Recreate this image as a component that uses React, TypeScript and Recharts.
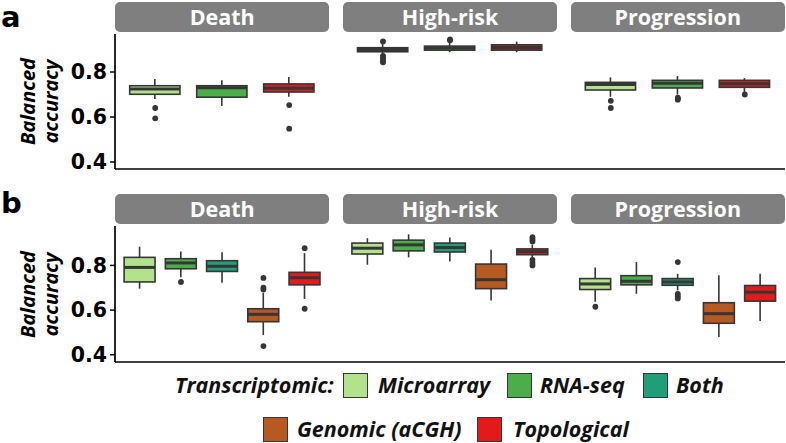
import React from 'react';
import { ComposedChart, Bar, Scatter, XAxis, YAxis } from 'recharts';

// ---------- data ----------
const facets = ['Death', 'High-risk', 'Progression'];
const methodsA = ['Microarray', 'RNA-seq', 'Topological'];
const methodsB = ['Microarray', 'RNA-seq', 'Both', 'Genomic (aCGH)', 'Topological'];
const legendRow1 = ['Microarray', 'RNA-seq', 'Both'];
const legendRow2 = ['Genomic (aCGH)', 'Topological'];
const legendTitle = 'Transcriptomic:';
const yTicks = [0.4, 0.6, 0.8];
const yTitle = ['Balanced', 'accuracy'];
const panelLabels = ['a', 'b'];

const methodColors: Record<string, string> = {
  Microarray: '#b2e28c',
  'RNA-seq': '#4cae4a',
  Both: '#1f9e79',
  'Genomic (aCGH)': '#b75a22',
  Topological: '#e31a1c',
};

// box stats: [lower whisker, q1, median, q3, upper whisker], one per method
const aDeathBoxes = [
  [0.68, 0.701, 0.724, 0.739, 0.769],
  [0.649, 0.688, 0.73, 0.739, 0.763],
  [0.69, 0.711, 0.728, 0.747, 0.778],
];
const aDeathOutliers = [[0.64, 0.594], [], [0.653, 0.548]];
const aHighRiskBoxes = [
  [0.88, 0.89, 0.9, 0.908, 0.928],
  [0.888, 0.897, 0.907, 0.915, 0.93],
  [0.888, 0.897, 0.909, 0.921, 0.935],
];
const aHighRiskOutliers = [[0.936, 0.872, 0.864, 0.856, 0.848, 0.843], [0.945, 0.941], []];
const aProgressionBoxes = [
  [0.69, 0.72, 0.745, 0.754, 0.776],
  [0.7, 0.729, 0.75, 0.763, 0.782],
  [0.71, 0.732, 0.748, 0.763, 0.773],
];
const aProgressionOutliers = [[0.672, 0.64], [0.686, 0.681, 0.677], [0.7]];

const bDeathBoxes = [
  [0.696, 0.726, 0.791, 0.836, 0.884],
  [0.747, 0.785, 0.811, 0.83, 0.862],
  [0.722, 0.773, 0.796, 0.821, 0.859],
  [0.488, 0.548, 0.581, 0.606, 0.677],
  [0.65, 0.713, 0.745, 0.769, 0.855],
];
const bDeathOutliers = [[], [0.726], [], [0.744, 0.7, 0.692, 0.439], [0.877, 0.606]];
const bHighRiskBoxes = [
  [0.803, 0.851, 0.877, 0.9, 0.922],
  [0.836, 0.865, 0.892, 0.913, 0.939],
  [0.818, 0.86, 0.88, 0.9, 0.925],
  [0.643, 0.696, 0.736, 0.806, 0.87],
  [0.833, 0.848, 0.862, 0.874, 0.892],
];
const bHighRiskOutliers = [[], [], [], [], [0.926, 0.916, 0.907, 0.825, 0.812, 0.8]];
const bProgressionBoxes = [
  [0.637, 0.692, 0.717, 0.741, 0.791],
  [0.673, 0.713, 0.729, 0.754, 0.815],
  [0.688, 0.711, 0.726, 0.741, 0.762],
  [0.48, 0.541, 0.584, 0.633, 0.756],
  [0.551, 0.64, 0.68, 0.71, 0.763],
];
const bProgressionOutliers = [[0.615], [], [0.815, 0.673, 0.662, 0.652], [], []];

// ---------- layout constants ----------
const W = 786;
const PLOT_LEFT = 115;
const FACET_W = 214.4;
const GAP_W = 13.4;
const STRIP_FILL = '#7f7f7f';
const INK = '#363636';
const LEGEND_ROW1_X = { title: 175, boxes: [343, 507, 643], texts: [378, 540, 676] };
const LEGEND_ROW2_X = { boxes: [263, 477], texts: [297, 513] };

type Row = { pos: number; lo: number; q1: number; med: number; q3: number; hi: number; fill: string };

function buildPanel(methods: string[], boxesByFacet: number[][][], outliersByFacet: number[][][]) {
  const n = methods.length;
  const unit = FACET_W / (n + 0.2);
  const gapU = GAP_W / unit;
  const span = n + 0.2 + gapU;
  const boxes: Row[] = [];
  const points: { pos: number; v: number }[] = [];
  boxesByFacet.forEach((fb, f) => {
    fb.forEach((s, i) => {
      const pos = f * span + 0.6 + i;
      boxes.push({ pos, lo: s[0], q1: s[1], med: s[2], q3: s[3], hi: s[4], fill: methodColors[methods[i]] });
      outliersByFacet[f][i].forEach((v) => points.push({ pos, v }));
    });
  });
  return { boxes, points, domainMax: 3 * (n + 0.2) + 2 * gapU, barSize: 0.75 * unit };
}

const panelA = buildPanel(
  methodsA,
  [aDeathBoxes, aHighRiskBoxes, aProgressionBoxes],
  [aDeathOutliers, aHighRiskOutliers, aProgressionOutliers]
);
const panelB = buildPanel(
  methodsB,
  [bDeathBoxes, bHighRiskBoxes, bProgressionBoxes],
  [bDeathOutliers, bHighRiskOutliers, bProgressionOutliers]
);

const BoxShape = (props: any) => {
  const { x, y, width, height, payload } = props;
  if (!payload) return null;
  const top = Math.min(y, y + height);
  const bottom = Math.max(y, y + height);
  const { lo, hi, q1, med, q3, fill } = payload as Row;
  const py = (v: number) => bottom - ((v - lo) / (hi - lo)) * (bottom - top);
  const cx = x + width / 2;
  return (
    <g>
      <line x1={cx} x2={cx} y1={py(hi)} y2={py(q3)} stroke={INK} strokeWidth={1.6} />
      <line x1={cx} x2={cx} y1={py(q1)} y2={py(lo)} stroke={INK} strokeWidth={1.6} />
      <rect x={x} y={py(q3)} width={width} height={Math.max(py(q1) - py(q3), 0.5)} fill={fill} stroke={INK} strokeWidth={1.6} />
      <line x1={x} x2={x + width} y1={py(med)} y2={py(med)} stroke={INK} strokeWidth={3} />
    </g>
  );
};

const OutlierDot = (props: any) => {
  const { cx, cy } = props;
  if (cx == null || cy == null) return null;
  return <circle cx={cx} cy={cy} r={2.9} fill={INK} />;
};

type PanelProps = {
  panel: ReturnType<typeof buildPanel>;
  top: number;
  height: number;
  marginTop: number;
  yDomain: [number, number];
};

const Panel = ({ panel, top, height, marginTop, yDomain }: PanelProps) => (
  <div style={{ position: 'absolute', left: 0, top, width: W, height }}>
    <ComposedChart width={W} height={height} data={panel.boxes} margin={{ top: marginTop, right: 1, bottom: 10, left: 0 }}>
      <XAxis
        type="number"
        dataKey="pos"
        domain={[0, panel.domainMax]}
        allowDataOverflow
        height={1}
        tick={false}
        tickLine={false}
        axisLine={{ stroke: '#000', strokeWidth: 1.7 }}
      />
      <YAxis
        type="number"
        domain={yDomain}
        allowDataOverflow
        ticks={yTicks}
        interval={0}
        width={PLOT_LEFT}
        tickSize={5}
        tickMargin={3}
        tickFormatter={(v: number) => v.toFixed(1)}
        tick={{ fill: '#000', fontSize: 20.5, fontWeight: 'bold', fontFamily: 'DejaVu Sans' }}
        tickLine={{ stroke: '#000', strokeWidth: 1.5 }}
        axisLine={{ stroke: '#000', strokeWidth: 1.7 }}
      />
      <Bar dataKey={(d: Row) => [d.lo, d.hi]} barSize={panel.barSize} shape={BoxShape} isAnimationActive={false} />
      <Scatter data={panel.points} dataKey="v" shape={OutlierDot} isAnimationActive={false} />
    </ComposedChart>
  </div>
);

const Strips = ({ top }: { top: number }) => (
  <>
    {facets.map((f, i) => (
      <div
        key={f}
        style={{
          position: 'absolute',
          left: PLOT_LEFT + i * (FACET_W + GAP_W),
          top,
          width: FACET_W,
          height: 30,
          background: STRIP_FILL,
          borderRadius: 5,
          color: '#fff',
          fontFamily: 'Open Sans',
          fontWeight: 'bold',
          fontSize: 21.5,
          lineHeight: '30px',
          textAlign: 'center',
        }}
      >
        {f}
      </div>
    ))}
  </>
);

const legendText: React.CSSProperties = {
  position: 'absolute',
  fontFamily: 'Open Sans',
  fontWeight: 'bold',
  fontStyle: 'italic',
  fontSize: 21.5,
  lineHeight: '26px',
  color: '#111',
  whiteSpace: 'nowrap',
};

const LegendBox = ({ name, x, y }: { name: string; x: number; y: number }) => (
  <div
    style={{
      position: 'absolute',
      left: x,
      top: y,
      width: 25,
      height: 25,
      boxSizing: 'border-box',
      background: methodColors[name],
      border: `1.6px solid ${INK}`,
    }}
  />
);

export default function App() {
  return (
    <div style={{ position: 'absolute', left: 0, top: 0, width: W, height: 443, background: '#fff', overflow: 'hidden' }}>
      <Panel panel={panelA} top={0} height={180} marginTop={34} yDomain={[0.3689, 0.9689]} />
      <Panel panel={panelB} top={190} height={183} marginTop={36} yDomain={[0.3676, 0.9764]} />
      <Strips top={2} />
      <Strips top={194} />
      <svg width={W} height={443} style={{ position: 'absolute', left: 0, top: 0, pointerEvents: 'none' }}>
        <text x={1} y={27} fontFamily="DejaVu Sans" fontWeight="bold" fontSize={29} fill="#000">
          {panelLabels[0]}
        </text>
        <text x={1} y={213} fontFamily="DejaVu Sans" fontWeight="bold" fontSize={29} fill="#000">
          {panelLabels[1]}
        </text>
        {[101.5, 294.5].map((cy, k) => (
          <g key={k} fontFamily="Open Sans" fontWeight="bold" fontStyle="italic" fontSize={20} fill="#000" textAnchor="middle">
            <text transform={`translate(35, ${cy}) rotate(-90)`}>{yTitle[0]}</text>
            <text transform={`translate(58, ${cy}) rotate(-90)`}>{yTitle[1]}</text>
          </g>
        ))}
      </svg>
      <span style={{ ...legendText, left: LEGEND_ROW1_X.title, top: 372 }}>{legendTitle}</span>
      {legendRow1.map((m, i) => (
        <React.Fragment key={m}>
          <LegendBox name={m} x={LEGEND_ROW1_X.boxes[i]} y={373} />
          <span style={{ ...legendText, left: LEGEND_ROW1_X.texts[i], top: 372 }}>{m}</span>
        </React.Fragment>
      ))}
      {legendRow2.map((m, i) => (
        <React.Fragment key={m}>
          <LegendBox name={m} x={LEGEND_ROW2_X.boxes[i]} y={417} />
          <span style={{ ...legendText, left: LEGEND_ROW2_X.texts[i], top: 416 }}>{m}</span>
        </React.Fragment>
      ))}
    </div>
  );
}
